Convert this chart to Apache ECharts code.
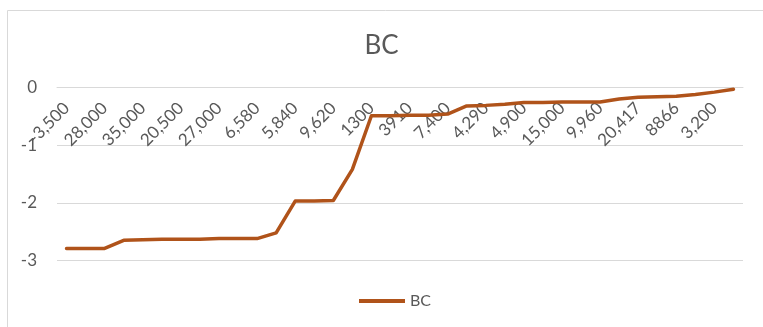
<!DOCTYPE html>
<html>
<head>
<meta charset="utf-8">
<script src="https://cdn.jsdelivr.net/npm/echarts@6/dist/echarts.min.js"></script>
<style>html,body{margin:0;padding:0;background:#fff}#c{width:763px;height:327px}</style>
</head>
<body>
<div id="c"></div>
<script>
const categories = ["-3,500","","28,000","","35,000","","20,500","","27,000","","6,580","","5,840","","9,620","","1300","","3910","","7,400","","4,290","","4,900","","15,000","","9,960","","20,417","","8866","","3,200",""];
const bcValues = [-2.79,-2.79,-2.79,-2.65,-2.64,-2.63,-2.63,-2.63,-2.62,-2.62,-2.62,-2.52,-1.97,-1.97,-1.96,-1.42,-0.49,-0.49,-0.48,-0.48,-0.46,-0.32,-0.31,-0.29,-0.26,-0.26,-0.25,-0.25,-0.25,-0.20,-0.17,-0.16,-0.15,-0.12,-0.08,-0.03];
const yTicks = {min: -3, max: 0, interval: 1};
const seriesName = "BC";
const titleText = "BC";

const chart = echarts.init(document.getElementById('c'));
const txt = '#595959';
chart.setOption({
  animation: false,
  textStyle: {fontFamily: 'Lato'},
  graphic: [{type: 'rect', shape: {x: 7.5, y: 10.5, width: 800, height: 400}, style: {fill: 'none', stroke: '#d9d9d9', lineWidth: 1}, silent: true}],
  title: {text: titleText, left: 'center', top: 28, textStyle: {fontFamily: 'Lato', fontSize: 26, fontWeight: 'normal', color: txt}},
  legend: {bottom: 13, left: 354, itemWidth: 46, itemHeight: 4, itemGap: 4,
    textStyle: {fontFamily: 'Lato', fontSize: 16, color: txt, padding: [0,0,0,0]},
    data: [{name: seriesName, icon: 'path://M0,0 L46,0 L46,4 L0,4 Z'}]},
  grid: {left: 57, right: 20, top: 87.5, bottom: 66.5, containLabel: false},
  xAxis: {type: 'category', data: categories, boundaryGap: true, position: 'top', z: 0,
    axisLine: {lineStyle: {color: '#d9d9d9', width: 1}},
    axisTick: {show: false},
    axisLabel: {interval: 1, rotate: 45, inside: true, fontFamily: 'Lato', fontSize: 17, color: txt, margin: 18}},
  yAxis: {type: 'value', min: yTicks.min, max: yTicks.max, interval: yTicks.interval,
    axisLine: {show: false}, axisTick: {show: false},
    axisLabel: {fontFamily: 'Lato', fontSize: 17, color: txt, margin: 20},
    splitLine: {lineStyle: {color: '#d9d9d9', width: 1}}},
  series: [{name: seriesName, type: 'line', data: bcValues, symbol: 'none', z: 5,
    lineStyle: {color: '#b0531a', width: 3.5, join: 'round', cap: 'round'}, itemStyle: {color: '#b0531a'}}]
});
</script>
</body>
</html>
